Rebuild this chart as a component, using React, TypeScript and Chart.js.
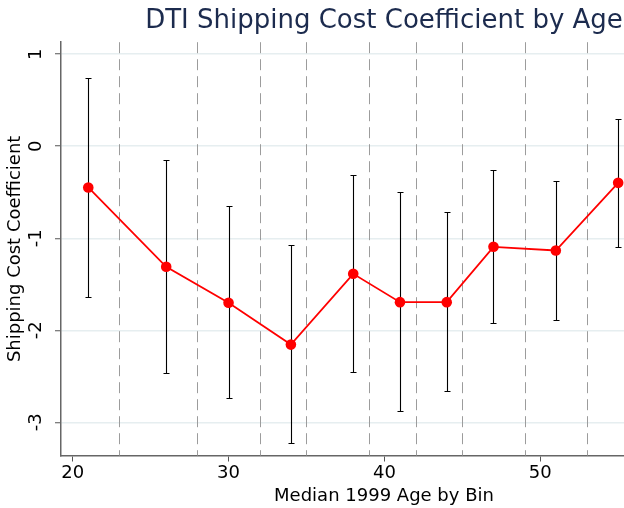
import React, { useEffect, useRef } from 'react';
import { Chart, registerables } from 'chart.js';

Chart.register(...registerables);

// ---- data ----
const ages = [21, 26, 30, 34, 38, 41, 44, 47, 51, 55];
const coef = [-0.448, -1.31, -1.70, -2.155, -1.386, -1.694, -1.694, -1.093, -1.133, -0.398];
const upper = [0.742, -0.152, -0.648, -1.078, -0.315, -0.50, -0.713, -0.257, -0.373, 0.293];
const lower = [-1.636, -2.465, -2.736, -3.225, -2.454, -2.877, -2.66, -1.925, -1.889, -1.093];
const binEdges = [23, 28, 32, 35, 39, 42, 45, 49, 53];
const xTicks = [20, 30, 40, 50, 60];
const yTicks = [1, 0, -1, -2, -3];

const FONT = "'DejaVu Sans', sans-serif";

const binLinesPlugin = {
  id: 'binLines',
  beforeDatasetsDraw(chart: any) {
    const { ctx, chartArea, scales } = chart;
    ctx.save();
    ctx.strokeStyle = '#9c9c9c';
    ctx.lineWidth = 1;
    ctx.setLineDash([11, 6]);
    binEdges.forEach((v) => {
      const x = Math.round(scales.x.getPixelForValue(v)) + 0.5;
      ctx.beginPath();
      ctx.moveTo(x, chartArea.top);
      ctx.lineTo(x, chartArea.bottom);
      ctx.stroke();
    });
    ctx.restore();
  },
};

const errorBarsPlugin = {
  id: 'errorBars',
  beforeDatasetsDraw(chart: any) {
    const { ctx, scales } = chart;
    ctx.save();
    ctx.strokeStyle = '#000';
    ctx.lineWidth = 1.1;
    ctx.setLineDash([]);
    ages.forEach((a, i) => {
      const x = Math.round(scales.x.getPixelForValue(a)) + 0.5;
      const yt = Math.round(scales.y.getPixelForValue(upper[i])) + 0.5;
      const yb = Math.round(scales.y.getPixelForValue(lower[i])) + 0.5;
      ctx.beginPath();
      ctx.moveTo(x, yt);
      ctx.lineTo(x, yb);
      ctx.moveTo(x - 3, yt);
      ctx.lineTo(x + 3, yt);
      ctx.moveTo(x - 3, yb);
      ctx.lineTo(x + 3, yb);
      ctx.stroke();
    });
    ctx.restore();
  },
};

export default function App() {
  const ref = useRef<HTMLCanvasElement>(null);

  useEffect(() => {
    if (!ref.current) return;
    const chart = new Chart(ref.current, {
      type: 'line',
      data: {
        datasets: [
          {
            data: ages.map((a, i) => ({ x: a, y: coef[i] })),
            borderColor: '#ff0000',
            backgroundColor: '#ff0000',
            borderWidth: 1.8,
            pointRadius: 5.3,
            pointBorderWidth: 0,
            pointBackgroundColor: '#ff0000',
            tension: 0,
          },
        ],
      },
      options: {
        animation: false,
        responsive: false,
        devicePixelRatio: 1,
        layout: { padding: 0 },
        plugins: {
          legend: { display: false },
          tooltip: { enabled: false },
          title: {
            display: true,
            text: 'DTI Shipping Cost Coefficient by Age',
            color: '#1c2b4e',
            font: { family: FONT, size: 26, weight: 'normal', lineHeight: 1.2 },
            padding: { top: 6, bottom: 5 },
            align: 'center',
          },
        },
        scales: {
          x: {
            type: 'linear',
            min: 19.25,
            max: 60.7,
            afterBuildTicks: (s: any) => {
              s.ticks = xTicks.map((v) => ({ value: v }));
            },
            afterFit: (s: any) => {
              s.height = 52.5;
            },
            grid: {
              drawOnChartArea: false,
              drawTicks: true,
              tickLength: 6,
              tickColor: '#555',
              tickWidth: 1,
            },
            border: { color: '#666', width: 1.5 },
            ticks: {
              color: '#000',
              padding: 1,
              font: { family: FONT, size: 18 },
              maxRotation: 0,
            },
            title: {
              display: true,
              text: 'Median 1999 Age by Bin',
              color: '#000',
              font: { family: FONT, size: 18, lineHeight: 1.2 },
              padding: { top: 0, bottom: 1 },
            },
          },
          y: {
            type: 'linear',
            min: -3.36,
            max: 1.13,
            afterBuildTicks: (s: any) => {
              s.ticks = yTicks.map((v) => ({ value: v }));
            },
            afterFit: (s: any) => {
              s.width = 61;
            },
            grid: {
              color: '#e6eef0',
              lineWidth: 1.5,
              drawTicks: true,
              tickLength: 6,
              tickColor: '#555',
              tickWidth: 1,
            },
            border: { color: '#666', width: 1.5 },
            ticks: {
              color: '#000',
              padding: 10,
              minRotation: 90,
              maxRotation: 90,
              crossAlign: 'center',
              font: { family: FONT, size: 18 },
            },
            title: {
              display: true,
              text: 'Shipping Cost Coefficient',
              color: '#000',
              font: { family: FONT, size: 18, lineHeight: 1.2 },
              padding: { top: 5, bottom: 0 },
            },
          },
          yRight: {
            type: 'linear',
            position: 'right',
            display: true,
            min: -3.36,
            max: 1.13,
            afterFit: (s: any) => {
              s.width = 61;
            },
            grid: { display: false, drawOnChartArea: false, drawTicks: false },
            border: { display: false },
            ticks: { display: false },
            title: { display: false },
          },
        },
      },
      plugins: [binLinesPlugin, errorBarsPlugin],
    } as any);
    return () => chart.destroy();
  }, []);

  return (
    <div
      style={{
        position: 'fixed',
        left: 0,
        top: 0,
        width: 624,
        height: 508,
        overflow: 'hidden',
        background: '#fff',
      }}
    >
      <canvas ref={ref} width={768} height={508} style={{ display: 'block', width: 768, height: 508 }} />
    </div>
  );
}
